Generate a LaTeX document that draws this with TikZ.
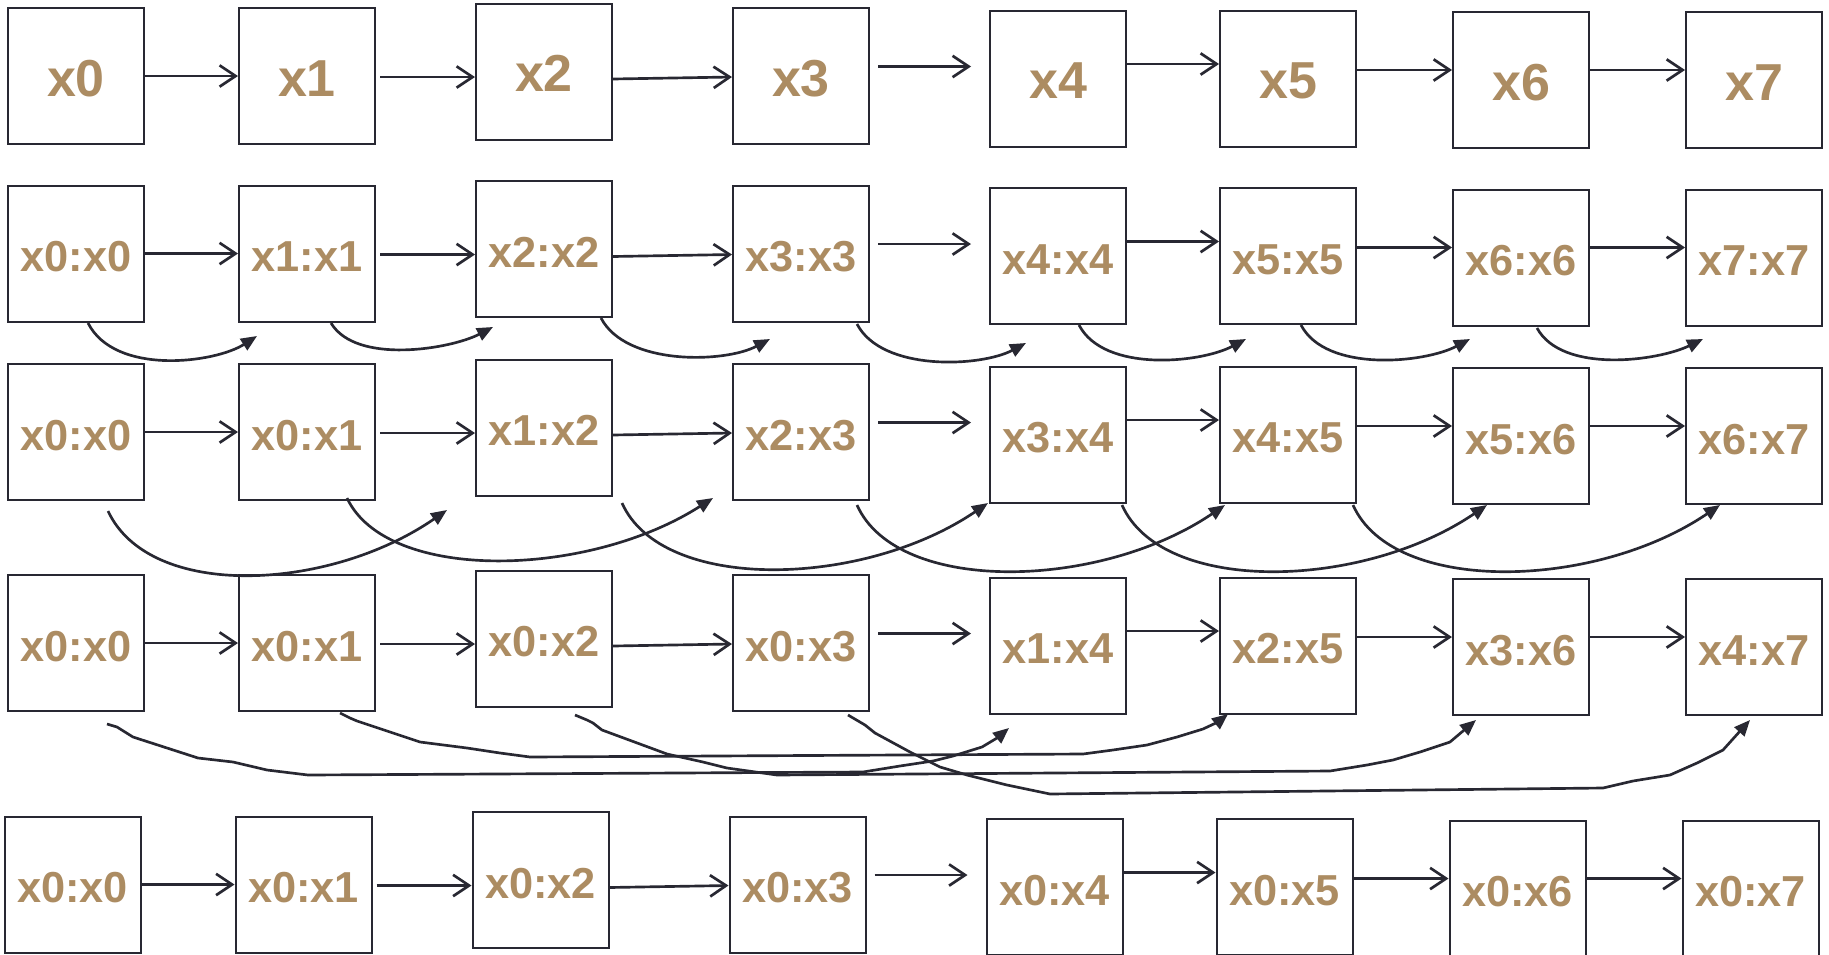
\documentclass[tikz,border=0pt]{standalone}
\usepackage{fontspec}
\setmainfont{Liberation Sans}
\usetikzlibrary{arrows.meta,calc}
\definecolor{lbl}{RGB}{172,140,98}
\definecolor{ink}{RGB}{40,40,50}
\tikzset{
  box/.style={draw=ink, line width=1.5pt, minimum width=102pt, minimum height=102pt,
    inner sep=0pt, text=lbl, text height=27.5pt, text depth=0pt,
    font=\bfseries\fontsize{32.5}{32.5}\selectfont},
  bigbox/.style={box, text height=30pt, font=\bfseries\fontsize{39}{39}\selectfont},
  harr/.style={draw=ink, line width=2pt, -{Straight Barb[length=12pt,width=16pt]}},
  curv/.style={draw=ink, line width=2pt, -{Triangle[length=12pt,width=10pt]}},
  wavy/.style={curv, line join=round},
}
\begin{document}
\begin{tikzpicture}[x=0.75pt,y=-0.75pt]
\useasboundingbox (0,0) rectangle (1829,954);
\fill[white] (0,0) rectangle (1829,954);
% boxes
\foreach \c/\x/\y in {0/76/76,1/307/76,2/544/71.5,3/801/76,4/1058/78.5,5/1288/78.5,6/1521/80,7/1754/80}{
  \node[bigbox] (n-1-\c) at (\x,\y) {x\c};
  \node[box] (n-2-\c) at (\x,\y+177.5) {x\c:x\c};
  \pgfmathtruncatemacro{\lo}{max(\c-1,0)}
  \node[box] (n-3-\c) at (\x,\y+356) {x\lo:x\c};
  \pgfmathtruncatemacro{\lot}{max(\c-3,0)}
  \node[box] (n-4-\c) at (\x,\y+567) {x\lot:x\c};
  \node[box] (n-5-\c) at (\x-3.5,\y+808.5) {x0:x\c};
}
% horizontal arrows in each row
\foreach \rw in {1,...,5}{
  \draw[harr] (n-\rw-0.east) -- (n-\rw-1.west);
  \draw[harr] ($(n-\rw-1.east)+(4,1)$) -- ($(n-\rw-2.west)+(0,5.5)$);
  \draw[harr] ($(n-\rw-2.east)+(0,7.5)$) -- ($(n-\rw-3.west)+(0,1)$);
  \draw[harr] ($(n-\rw-3.east)+(8,-9.5)$) -- ($(n-\rw-4.west)+(-18,-12)$);
  \draw[harr] ($(n-\rw-4.east)+(0,-14.5)$) -- ($(n-\rw-5.west)+(0,-14.5)$);
  \draw[harr] ($(n-\rw-5.east)+(0,-8.5)$) -- ($(n-\rw-6.west)+(0,-10)$);
  \draw[harr] ($(n-\rw-6.east)+(0,-10)$) -- ($(n-\rw-7.west)+(0,-10)$);
}
% distance-1 curves (below row 2)
\draw[curv] ($(n-2-0.south)+(12,0.5)$) .. controls +(27,53) and +(-42,27) .. ($(n-2-1.south)+(-50,13.5)$);
\draw[curv] ($(n-2-1.south)+(24,0.5)$) .. controls +(25,42) and +(-42,22) .. ($(n-2-2.south)+(-51,9)$);
\draw[curv] ($(n-2-2.south)+(57,0)$) .. controls +(25,48) and +(-45,24) .. ($(n-2-3.south)+(-31,16.5)$);
\draw[curv] ($(n-2-3.south)+(56,1.5)$) .. controls +(25,48) and +(-45,24) .. ($(n-2-4.south)+(-32,18)$);
\draw[curv] ($(n-2-4.south)+(21,0)$) .. controls +(25,48) and +(-45,24) .. ($(n-2-5.south)+(-42,14)$);
\draw[curv] ($(n-2-5.south)+(13,0)$) .. controls +(25,48) and +(-45,24) .. ($(n-2-6.south)+(-51,12.5)$);
\draw[curv] ($(n-2-6.south)+(16,1.5)$) .. controls +(25,46) and +(-45,22) .. ($(n-2-7.south)+(-51,12.5)$);
% distance-2 curves (below row 3)
\draw[curv] ($(n-3-0.south)+(32,10)$) .. controls +(42,90) and +(-117,81) .. ($(n-3-2.south)+(-97,13.5)$);
\draw[curv] ($(n-3-1.south)+(40,-3)$) .. controls +(40,85) and +(-125,80) .. ($(n-3-3.south)+(-88,-3)$);
\draw[curv] ($(n-3-2.south)+(78,6.5)$) .. controls +(40,90) and +(-125,85) .. ($(n-3-4.south)+(-70,-0.5)$);
\draw[curv] ($(n-3-3.south)+(56,4)$) .. controls +(40,90) and +(-125,85) .. ($(n-3-5.south)+(-63,1.5)$);
\draw[curv] ($(n-3-4.south)+(64,1.5)$) .. controls +(40,90) and +(-125,85) .. ($(n-3-6.south)+(-34,0)$);
\draw[curv] ($(n-3-5.south)+(65,1.5)$) .. controls +(40,90) and +(-125,85) .. ($(n-3-7.south)+(-34,0)$);
% distance-4 hand-drawn paths (below row 4)
\draw[wavy] ($(n-4-0.south)+(31,12)$) -- (117,727) -- (125,732) -- (133,737) -- (198,758) -- (233,762) -- (267,770) -- (308,775) -- (863,772) -- (900,766) -- (933,761) -- (953,756) -- (982,747) -- (997,738) -- ($(n-4-4.south)+(-49,13.5)$);
\draw[wavy] ($(n-4-1.south)+(33,1)$) -- (350,718) -- (357,721) -- (420,742) -- (467,748) -- (500,753) -- (530,757) -- (1083,754) -- (1113,750) -- (1147,745) -- (1177,737) -- (1203,729) -- (1218,722) -- ($(n-4-5.south)+(-60,-0.5)$);
\draw[wavy] ($(n-4-2.south)+(31,7.5)$) -- (587,720) -- (593,723) -- (602,730) -- (667,754) -- (703,762) -- (727,768) -- (777,775) -- (1330,771) -- (1367,765) -- (1393,760) -- (1420,752) -- (1450,742) -- ($(n-4-6.south)+(-45,4)$);
\draw[wavy] ($(n-4-3.south)+(47,3)$) -- (865,725) -- (875,733) -- (910,752) -- (940,767) -- (967,775) -- (1007,785) -- (1050,794) -- (1603,788) -- (1633,781) -- (1670,775) -- (1697,763) -- (1723,750) -- ($(n-4-7.south)+(-4,4)$);
\end{tikzpicture}
\end{document}
